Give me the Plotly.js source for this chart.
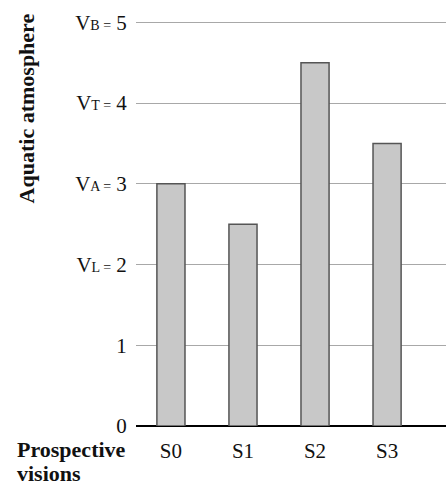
<!DOCTYPE html>
<html>
<head>
<meta charset="utf-8">
<script src="https://cdn.plot.ly/plotly-3.0.1.min.js"></script>
<style>
html,body{margin:0;padding:0;background:#fff;}
#chart{width:446px;height:486px;}
</style>
</head>
<body>
<div id="chart"></div>
<script>
const categories = ['S0', 'S1', 'S2', 'S3'];
const values = [3, 2.5, 4.5, 3.5];
const yTickVals = [0, 1, 2, 3, 4, 5];
const yTickLetters = ['', '', 'L', 'A', 'T', 'B'];
const yTitle = 'Aquatic atmosphere';
const xTitleLines = ['Prospective', 'visions'];

const yTickText = yTickVals.map((v, i) =>
  yTickLetters[i]
    ? 'V<span style="font-size:14px">' + yTickLetters[i] + ' =</span> ' + v
    : String(v)
);

const trace = {
  type: 'bar',
  x: categories,
  y: values,
  width: 0.39,
  marker: { color: '#c8c8c8', line: { color: '#555555', width: 1.5 } },
  hoverinfo: 'none'
};

const serif = 'Liberation Serif';

const layout = {
  width: 446,
  height: 486,
  margin: { l: 136, r: 0, t: 20, b: 60 },
  paper_bgcolor: '#ffffff',
  plot_bgcolor: '#ffffff',
  showlegend: false,
  font: { family: serif, size: 20, color: '#111111' },
  xaxis: {
    range: [-0.485, 3.818],
    showgrid: false,
    showline: false,
    zeroline: false,
    ticks: 'outside',
    ticklen: 6,
    tickcolor: 'rgba(0,0,0,0)',
    tickfont: { family: serif, size: 21, color: '#111111' }
  },
  yaxis: {
    range: [0, 5.03],
    tickvals: yTickVals,
    ticktext: yTickText,
    showgrid: true,
    gridcolor: '#a8a8a8',
    gridwidth: 1,
    zeroline: true,
    zerolinecolor: '#000000',
    zerolinewidth: 2,
    showline: false,
    ticks: 'outside',
    ticklen: 4,
    tickcolor: 'rgba(0,0,0,0)',
    tickfont: { family: serif, size: 21, color: '#111111' }
  },
  annotations: [
    {
      text: '<b>' + yTitle + '</b>',
      xref: 'paper', yref: 'paper',
      x: -0.352, y: 0.782,
      xanchor: 'center', yanchor: 'middle',
      textangle: -90,
      showarrow: false,
      font: { family: serif, size: 22, color: '#111111' }
    },
    {
      text: '<b>' + xTitleLines[0] + '</b>',
      xref: 'paper', yref: 'paper',
      x: -0.39, y: -0.059,
      xanchor: 'left', yanchor: 'middle',
      showarrow: false,
      font: { family: serif, size: 22, color: '#111111' }
    },
    {
      text: '<b>' + xTitleLines[1] + '</b>',
      xref: 'paper', yref: 'paper',
      x: -0.39, y: -0.118,
      xanchor: 'left', yanchor: 'middle',
      showarrow: false,
      font: { family: serif, size: 22, color: '#111111' }
    }
  ]
};

Plotly.newPlot('chart', [trace], layout, { displayModeBar: false, staticPlot: true });
</script>
</body>
</html>
